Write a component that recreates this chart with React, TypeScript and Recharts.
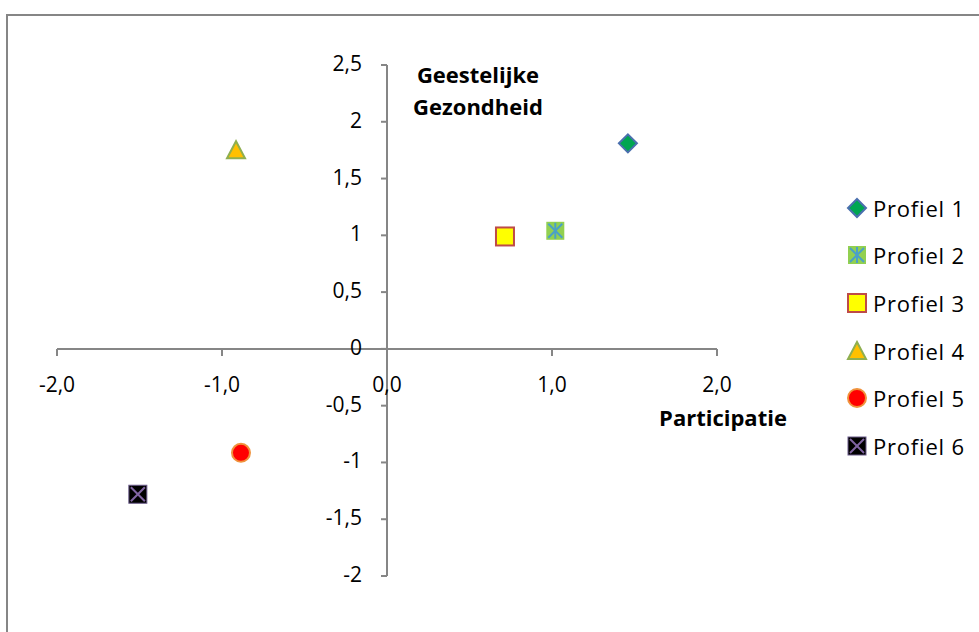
import { ScatterChart, Scatter, XAxis, YAxis, ReferenceLine } from "recharts";

const profiles = ["Profiel 1", "Profiel 2", "Profiel 3", "Profiel 4", "Profiel 5", "Profiel 6"];
const participatie = [1.46, 1.02, 0.715, -0.915, -0.885, -1.51];
const gezondheid = [1.81, 1.04, 0.99, 1.75, -0.915, -1.28];
const xTicks = [-2, -1, 0, 1, 2];
const yTicks = [-2, -1.5, -1, -0.5, 0, 0.5, 1, 1.5, 2, 2.5];

const W = 971;
const H = 618;
const PLOT_H = 511;
const PLOT_W = 660;
const X_AXIS_H = 30;
const Y_AXIS_W = 49;
const M = { top: 49, left: 0, right: W - Y_AXIS_W - PLOT_W, bottom: H - 49 - PLOT_H - X_AXIS_H };
const zeroY = M.top + PLOT_H * (2.5 / 4.5);
const zeroX = Y_AXIS_W + PLOT_W * 0.5;

const AXIS = "#868686";
const FONT = "'Open Sans', sans-serif";

const comma = (v: number, d?: number) => (d === undefined ? String(v) : v.toFixed(d)).replace(".", ",");

function Marker({ kind, cx, cy }: { kind: number; cx: number; cy: number }) {
  const r = 9;
  switch (kind) {
    case 0:
      return (
        <polygon
          points={`${cx},${cy - r} ${cx + r},${cy} ${cx},${cy + r} ${cx - r},${cy}`}
          fill="#00A651"
          stroke="#4A6FAE"
          strokeWidth={2}
        />
      );
    case 1:
      return (
        <g>
          <rect x={cx - r} y={cy - r} width={2 * r} height={2 * r} fill="#92D050" />
          <g stroke="#4BA0C8" strokeWidth={2}>
            <line x1={cx} y1={cy - r + 1} x2={cx} y2={cy + r - 1} />
            <line x1={cx - r + 2} y1={cy - r + 2} x2={cx + r - 2} y2={cy + r - 2} />
            <line x1={cx + r - 2} y1={cy - r + 2} x2={cx - r + 2} y2={cy + r - 2} />
          </g>
        </g>
      );
    case 2:
      return <rect x={cx - r} y={cy - r} width={2 * r} height={2 * r} fill="#FFFF00" stroke="#BE4B48" strokeWidth={2} />;
    case 3:
      return (
        <polygon
          points={`${cx},${cy - r} ${cx + r},${cy + r - 1} ${cx - r},${cy + r - 1}`}
          fill="#FFC000"
          stroke="#8FAF50"
          strokeWidth={2}
        />
      );
    case 4:
      return <circle cx={cx} cy={cy} r={r} fill="#FF0000" stroke="#F0923C" strokeWidth={2} />;
    default:
      return (
        <g>
          <rect x={cx - r} y={cy - r} width={2 * r} height={2 * r} fill="#000000" stroke="#6A5A8A" strokeWidth={1} />
          <g stroke="#8064A2" strokeWidth={2}>
            <line x1={cx - r + 2} y1={cy - r + 2} x2={cx + r - 2} y2={cy + r - 2} />
            <line x1={cx + r - 2} y1={cy - r + 2} x2={cx - r + 2} y2={cy + r - 2} />
          </g>
        </g>
      );
  }
}

function XTick({ x, payload }: any) {
  return (
    <g>
      <line x1={x} y1={zeroY} x2={x} y2={zeroY + 7} stroke={AXIS} strokeWidth={2} />
      <text x={x} y={zeroY + 43} textAnchor="middle" fontSize={21} fontFamily={FONT} fill="#000">
        {comma(payload.value, 1)}
      </text>
    </g>
  );
}

function YTick({ y, payload }: any) {
  return (
    <g>
      <line x1={zeroX - 6} y1={y} x2={zeroX} y2={y} stroke={AXIS} strokeWidth={2} />
      <text x={zeroX - 25} y={y + 6} textAnchor="end" fontSize={21} fontFamily={FONT} fill="#000">
        {comma(payload.value)}
      </text>
    </g>
  );
}

export default function App() {
  return (
    <div style={{ position: "absolute", left: 6, top: 14, width: 1000, height: 700, borderLeft: `2px solid ${AXIS}`, borderTop: `2px solid ${AXIS}` }}>
      <div style={{ position: "relative", width: W, height: H }}>
        <ScatterChart width={W} height={H} margin={M}>
          <XAxis
            type="number"
            dataKey="x"
            domain={[-2, 2]}
            ticks={xTicks}
            axisLine={false}
            tickLine={false}
            tick={<XTick />}
            interval={0}
            height={X_AXIS_H}
          />
          <YAxis
            type="number"
            dataKey="y"
            domain={[-2, 2.5]}
            ticks={yTicks}
            axisLine={false}
            tickLine={false}
            tick={<YTick />}
            interval={0}
            width={Y_AXIS_W}
          />
          <ReferenceLine y={0} stroke={AXIS} strokeWidth={2} />
          <ReferenceLine x={0} stroke={AXIS} strokeWidth={2} />
          {profiles.map((name, i) => (
            <Scatter
              key={name}
              name={name}
              data={[{ x: participatie[i], y: gezondheid[i] }]}
              fill="#000"
              shape={(props: any) => <Marker kind={i} cx={props.cx} cy={props.cy} />}
              isAnimationActive={false}
            />
          ))}
        </ScatterChart>
        <div style={{ position: "absolute", left: 838, top: 168, width: 135, fontFamily: FONT }}>
          {profiles.map((name, i) => (
            <div key={name} style={{ height: 47.6, display: "flex", alignItems: "center", whiteSpace: "nowrap" }}>
              <svg width={22} height={22} style={{ marginRight: 5 }}>
                <Marker kind={i} cx={11} cy={11} />
              </svg>
              <span style={{ fontSize: 22, letterSpacing: 0.8, color: "#000" }}>{name}</span>
            </div>
          ))}
        </div>
        <div style={{ position: "absolute", left: 390, top: 42, width: 160, textAlign: "center", fontFamily: FONT, fontWeight: 700, fontSize: 22, lineHeight: "32px" }}>
          Geestelijke
          <br />
          Gezondheid
        </div>
        <div style={{ position: "absolute", left: 630, top: 386, width: 170, textAlign: "center", fontFamily: FONT, fontWeight: 700, fontSize: 22 }}>
          Participatie
        </div>
      </div>
    </div>
  );
}
